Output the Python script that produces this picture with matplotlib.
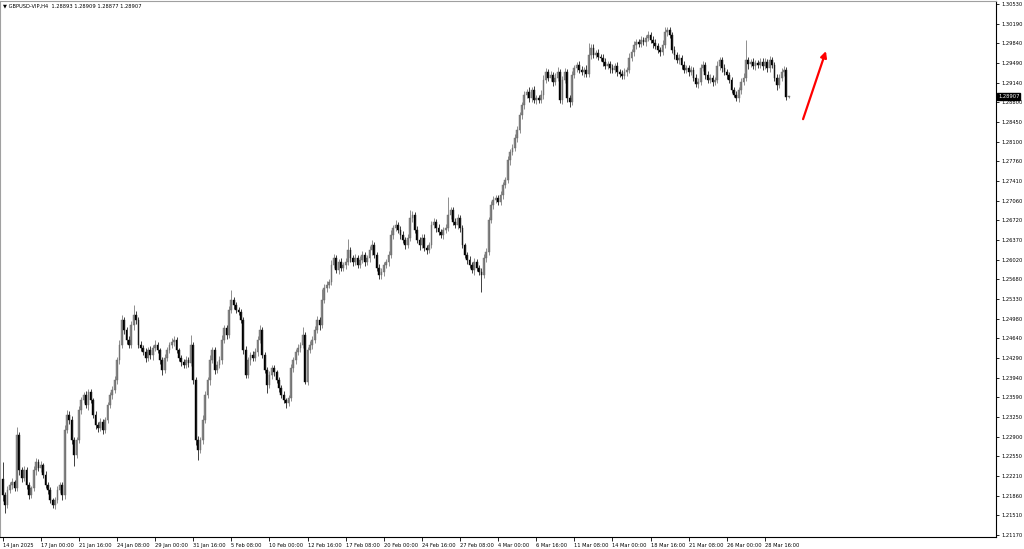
import matplotlib
matplotlib.use("Agg")
import matplotlib.pyplot as plt
import numpy as np

# GBPUSD H4 candles, 14 Jan 2025 - 31 Mar 2025
first_open = 1.2215
closes = [
    1.2187, 1.2170, 1.2196, 1.2205, 1.2210, 1.2200, 1.2293, 1.2231, 1.2217, 1.2231,
    1.2205, 1.2187, 1.2200, 1.2231, 1.2246, 1.2235, 1.2240, 1.2223, 1.2205, 1.2196,
    1.2179, 1.2170, 1.2179, 1.2196, 1.2205, 1.2187, 1.2302, 1.2329, 1.2320, 1.2284,
    1.2258, 1.2284, 1.2337, 1.2355, 1.2364, 1.2346, 1.2369, 1.2355, 1.2329, 1.2311,
    1.2305, 1.2316, 1.2302, 1.2320, 1.2346, 1.2364, 1.2373, 1.2390, 1.2425, 1.2452,
    1.2496, 1.2478, 1.2461, 1.2452, 1.2487, 1.2505, 1.2496, 1.2452, 1.2447, 1.2440,
    1.2429, 1.2443, 1.2434, 1.2447, 1.2452, 1.2443, 1.2425, 1.2408, 1.2429, 1.2443,
    1.2452, 1.2457, 1.2461, 1.2443, 1.2429, 1.2422, 1.2417, 1.2425, 1.2420, 1.2452,
    1.2390, 1.2284, 1.2267, 1.2284, 1.2320, 1.2364, 1.2390, 1.2425, 1.2443, 1.2408,
    1.2417, 1.2425, 1.2461, 1.2482, 1.2470, 1.2514, 1.2531, 1.2522, 1.2514, 1.2510,
    1.2496, 1.2443, 1.2399, 1.2425, 1.2434, 1.2429, 1.2440, 1.2461, 1.2478, 1.2434,
    1.2408, 1.2381, 1.2399, 1.2411, 1.2404, 1.2390, 1.2376, 1.2364, 1.2355, 1.2350,
    1.2358, 1.2411, 1.2425, 1.2440, 1.2447, 1.2452, 1.2470, 1.2387, 1.2443, 1.2452,
    1.2461, 1.2478, 1.2496, 1.2487, 1.2531, 1.2552, 1.2558, 1.2563, 1.2593, 1.2605,
    1.2584, 1.2598, 1.2588, 1.2593, 1.2598, 1.2619, 1.2605, 1.2598, 1.2605, 1.2593,
    1.2602, 1.2611, 1.2598, 1.2605, 1.2619, 1.2628, 1.2611, 1.2588, 1.2575, 1.2581,
    1.2593, 1.2598, 1.2611, 1.2646, 1.2658, 1.2663, 1.2655, 1.2646, 1.2637, 1.2628,
    1.2641, 1.2676, 1.2681, 1.2655, 1.2637, 1.2628, 1.2641, 1.2623, 1.2619, 1.2628,
    1.2663, 1.2669, 1.2658, 1.2651, 1.2646, 1.2655, 1.2658, 1.2681, 1.2690, 1.2669,
    1.2663, 1.2676, 1.2658, 1.2628, 1.2611, 1.2602, 1.2593, 1.2584, 1.2598, 1.2588,
    1.2581, 1.2575, 1.2605, 1.2616, 1.2672, 1.2699, 1.2708, 1.2711, 1.2704, 1.2716,
    1.2734, 1.2743, 1.2778, 1.2792, 1.2799, 1.2817, 1.2831, 1.2857, 1.2875, 1.2893,
    1.2898, 1.2887, 1.2901, 1.2884, 1.2887, 1.2884, 1.2893, 1.2919, 1.2933, 1.2923,
    1.2928, 1.2916, 1.2923, 1.2933, 1.2884, 1.2919, 1.2933, 1.2887, 1.2880, 1.2928,
    1.2940, 1.2946, 1.2937, 1.2933, 1.2937, 1.2930, 1.2963, 1.2976, 1.2963, 1.2967,
    1.2960, 1.2958, 1.2951, 1.2944, 1.2947, 1.2940, 1.2937, 1.2944, 1.2933, 1.2930,
    1.2926, 1.2933, 1.2937, 1.2958, 1.2968, 1.2981, 1.2986, 1.2983, 1.2990, 1.2986,
    1.2993, 1.2998, 1.2990, 1.2984, 1.2979, 1.2972, 1.2968, 1.2981, 1.3004, 1.3007,
    1.2998, 1.2972, 1.2963, 1.2954, 1.2958, 1.2946, 1.2937, 1.2940, 1.2933, 1.2937,
    1.2923, 1.2912, 1.2916, 1.2940, 1.2946, 1.2928, 1.2919, 1.2923, 1.2916, 1.2919,
    1.2944, 1.2954, 1.2940, 1.2933, 1.2928, 1.2919, 1.2901, 1.2893, 1.2887, 1.2901,
    1.2916, 1.2923, 1.2954, 1.2947, 1.2951, 1.2944, 1.2949, 1.2946, 1.2951, 1.2944,
    1.2951, 1.2940, 1.2954, 1.2946, 1.2923, 1.2910, 1.2923, 1.2933, 1.2937, 1.28893,
    1.28907,
]
# wick lengths above / below the body, in pips
up_wick = [
    31, 6, 8, 5, 7, 4, 14, 6, 5, 7,
    5, 6, 4, 8, 6, 5, 7, 4, 6, 5,
    6, 4, 5, 7, 5, 6, 8, 9, 6, 7,
    6, 5, 8, 6, 5, 7, 6, 5, 4, 6,
    5, 7, 6, 5, 6, 5, 7, 8, 6, 9,
    9, 6, 5, 7, 8, 17, 6, 5, 7, 4,
    6, 5, 7, 5, 8, 6, 4, 5, 7, 6,
    5, 8, 6, 5, 4, 6, 5, 7, 5, 18,
    6, 5, 7, 6, 8, 7, 6, 9, 6, 5,
    6, 7, 8, 6, 5, 7, 18, 6, 5, 4,
    6, 5, 7, 6, 5, 8, 6, 7, 9, 5,
    6, 5, 7, 6, 5, 4, 6, 5, 7, 4,
    6, 8, 6, 5, 7, 6, 14, 5, 6, 7,
    6, 8, 7, 6, 20, 7, 6, 5, 8, 7,
    6, 5, 7, 6, 8, 20, 5, 6, 7, 5,
    6, 7, 5, 6, 8, 9, 6, 5, 7, 6,
    5, 6, 7, 8, 6, 9, 5, 6, 7, 5,
    6, 14, 7, 5, 6, 5, 7, 6, 5, 6,
    8, 6, 5, 7, 6, 5, 7, 32, 6, 5,
    7, 6, 5, 6, 4, 5, 6, 5, 7, 6,
    5, 6, 8, 7, 5, 6, 7, 5, 6, 8,
    6, 5, 7, 6, 8, 6, 7, 6, 5, 7,
    6, 8, 5, 7, 6, 5, 8, 9, 7, 6,
    7, 6, 8, 9, 5, 7, 8, 6, 5, 7,
    6, 5, 7, 6, 5, 8, 21, 6, 7, 5,
    6, 5, 7, 6, 5, 6, 7, 5, 6, 5,
    6, 7, 5, 8, 6, 7, 5, 6, 7, 5,
    6, 7, 5, 6, 7, 5, 6, 8, 8, 6,
    5, 6, 7, 5, 6, 5, 7, 6, 5, 6,
    5, 6, 7, 8, 6, 5, 7, 6, 5, 6,
    8, 6, 5, 7, 6, 5, 6, 5, 7, 6,
    7, 8, 36, 6, 5, 7, 6, 5, 6, 7,
    6, 5, 8, 6, 5, 7, 6, 7, 6, 5,
    0.2,
]
down_wick = [
    10, 14, 6, 5, 7, 6, 5, 8, 6, 5,
    7, 6, 5, 6, 8, 5, 7, 6, 5, 7,
    6, 5, 7, 6, 5, 8, 6, 5, 7, 6,
    20, 6, 5, 7, 6, 5, 8, 6, 5, 7,
    6, 5, 7, 6, 5, 6, 8, 5, 6, 7,
    5, 6, 7, 5, 6, 8, 7, 6, 5, 6,
    7, 5, 6, 8, 5, 6, 7, 9, 6, 5,
    6, 5, 7, 6, 5, 8, 6, 5, 7, 6,
    7, 8, 18, 6, 7, 5, 6, 8, 5, 7,
    6, 5, 7, 6, 8, 5, 6, 7, 5, 6,
    5, 7, 6, 5, 8, 6, 5, 7, 6, 5,
    6, 13, 5, 7, 6, 5, 7, 6, 5, 9,
    6, 5, 7, 6, 5, 8, 6, 4, 6, 5,
    7, 6, 5, 8, 6, 5, 7, 6, 5, 6,
    6, 7, 5, 6, 8, 5, 6, 7, 5, 6,
    5, 6, 7, 5, 6, 8, 5, 6, 7, 6,
    7, 5, 6, 5, 7, 6, 5, 8, 6, 7,
    5, 6, 7, 5, 6, 8, 5, 6, 7, 5,
    6, 5, 7, 6, 5, 8, 6, 5, 7, 6,
    5, 6, 7, 5, 6, 7, 5, 6, 8, 5,
    6, 30, 5, 7, 6, 5, 7, 6, 5, 6,
    7, 5, 6, 8, 5, 6, 7, 5, 6, 7,
    5, 6, 7, 5, 8, 6, 5, 7, 6, 5,
    6, 7, 5, 6, 6, 7, 5, 6, 8, 5,
    6, 7, 5, 6, 8, 5, 6, 7, 5, 6,
    5, 6, 7, 5, 6, 8, 5, 6, 7, 5,
    6, 5, 7, 6, 5, 6, 7, 5, 6, 5,
    7, 5, 6, 8, 5, 6, 7, 5, 6, 7,
    5, 6, 7, 5, 6, 8, 5, 6, 7, 5,
    6, 5, 7, 6, 5, 7, 6, 5, 8, 6,
    5, 7, 6, 5, 8, 6, 5, 4, 5, 6,
    7, 5, 6, 8, 5, 6, 7, 5, 6, 7,
    5, 6, 7, 5, 6, 8, 5, 6, 7, 5,
    1.6,
]

# price scale labels as shown on the right axis
price_labels = ["1.30530", "1.30190", "1.29840", "1.29490", "1.29140", "1.28800",
                "1.28450", "1.28100", "1.27760", "1.27410", "1.27060", "1.26720",
                "1.26370", "1.26020", "1.25680", "1.25330", "1.24980", "1.24640",
                "1.24290", "1.23940", "1.23590", "1.23250", "1.22900", "1.22550",
                "1.22210", "1.21860", "1.21510", "1.21170"]
# time labels, one every 16 bars
time_labels = ["14 Jan 2025", "17 Jan 00:00", "21 Jan 16:00", "24 Jan 08:00",
               "29 Jan 00:00", "31 Jan 16:00", "5 Feb 08:00", "10 Feb 00:00",
               "12 Feb 16:00", "17 Feb 08:00", "20 Feb 00:00", "24 Feb 16:00",
               "27 Feb 08:00", "4 Mar 00:00", "6 Mar 16:00", "11 Mar 08:00",
               "14 Mar 00:00", "18 Mar 16:00", "21 Mar 08:00", "26 Mar 00:00",
               "28 Mar 16:00"]
time_label_bars = [0, 16, 32, 48, 64, 80, 96, 112, 128, 144, 160, 176, 192,
                   208, 224, 240, 256, 272, 288, 304, 320]

# hand drawn arrow (bar index, price)
arrow_from = (336.0, 1.2850)
arrow_to = (345.6, 1.2970)

closes = np.array(closes)
opens = np.concatenate([[first_open], closes[:-1]])
opens[-1] = 1.28893
highs = np.maximum(opens, closes) + np.array(up_wick) * 1e-4
lows = np.minimum(opens, closes) - np.array(down_wick) * 1e-4
idx = np.arange(len(closes))

fs = 3.7
fig = plt.figure(figsize=(10.24, 5.49), dpi=100)
ax = fig.add_axes([0.0, 12 / 549, 996 / 1024, 536 / 549])
ax.set_facecolor("white")

bull = closes >= opens
ax.vlines(idx[bull], lows[bull], highs[bull], color="#707070", lw=0.55)
ax.vlines(idx[~bull], lows[~bull], highs[~bull], color="#202020", lw=0.6)
body_h = np.maximum(np.abs(closes - opens), 0.00004)
body_b = np.minimum(opens, closes)
ax.bar(idx[bull], body_h[bull], bottom=body_b[bull], width=0.75,
       color="#8a8a8a", edgecolor="#666666", linewidth=0.3)
ax.bar(idx[~bull], body_h[~bull], bottom=body_b[~bull], width=0.75,
       color="black", edgecolor="black", linewidth=0.3)

ax.set_xlim(-1.13, 417.0)
ax.set_ylim(1.21134, 1.30583)

# right price axis
ticks = 1.3053 - np.arange(len(price_labels)) * (0.0936 / 27)
ax.yaxis.tick_right()
ax.set_yticks(ticks)
ax.set_yticklabels(price_labels)
ax.tick_params(axis="y", direction="out", length=2.5, width=0.6, pad=1.5,
               labelsize=fs, colors="black")

ax.set_xticks(time_label_bars)
ax.set_xticklabels(time_labels, ha="left")
ax.tick_params(axis="x", direction="out", length=3, width=0.6, pad=1.2,
               labelsize=fs, colors="black")

for s in ["top", "left"]:
    ax.spines[s].set_color("#a0a0a0")
    ax.spines[s].set_linewidth(0.8)
for s in ["right", "bottom"]:
    ax.spines[s].set_color("black")
    ax.spines[s].set_linewidth(0.8)

# current price tag
ax.annotate("1.28907", xy=(1.002, closes[-1]), xycoords=("axes fraction", "data"),
            ha="left", va="center", fontsize=fs, color="white",
            bbox=dict(boxstyle="square,pad=0.2", fc="black", ec="black"))

# symbol header
fig.text(3 / 1024, 1 - 6 / 549, "\u25bc GBPUSD-VIP,H4  1.28893 1.28909 1.28877 1.28907",
         fontsize=fs, va="center", ha="left", color="black")

ax.annotate("", xy=arrow_to, xytext=arrow_from,
            arrowprops=dict(arrowstyle="-|>", color="red", lw=1.6,
                            mutation_scale=9, shrinkA=0, shrinkB=0))

fig.savefig("out.png", dpi=100)
